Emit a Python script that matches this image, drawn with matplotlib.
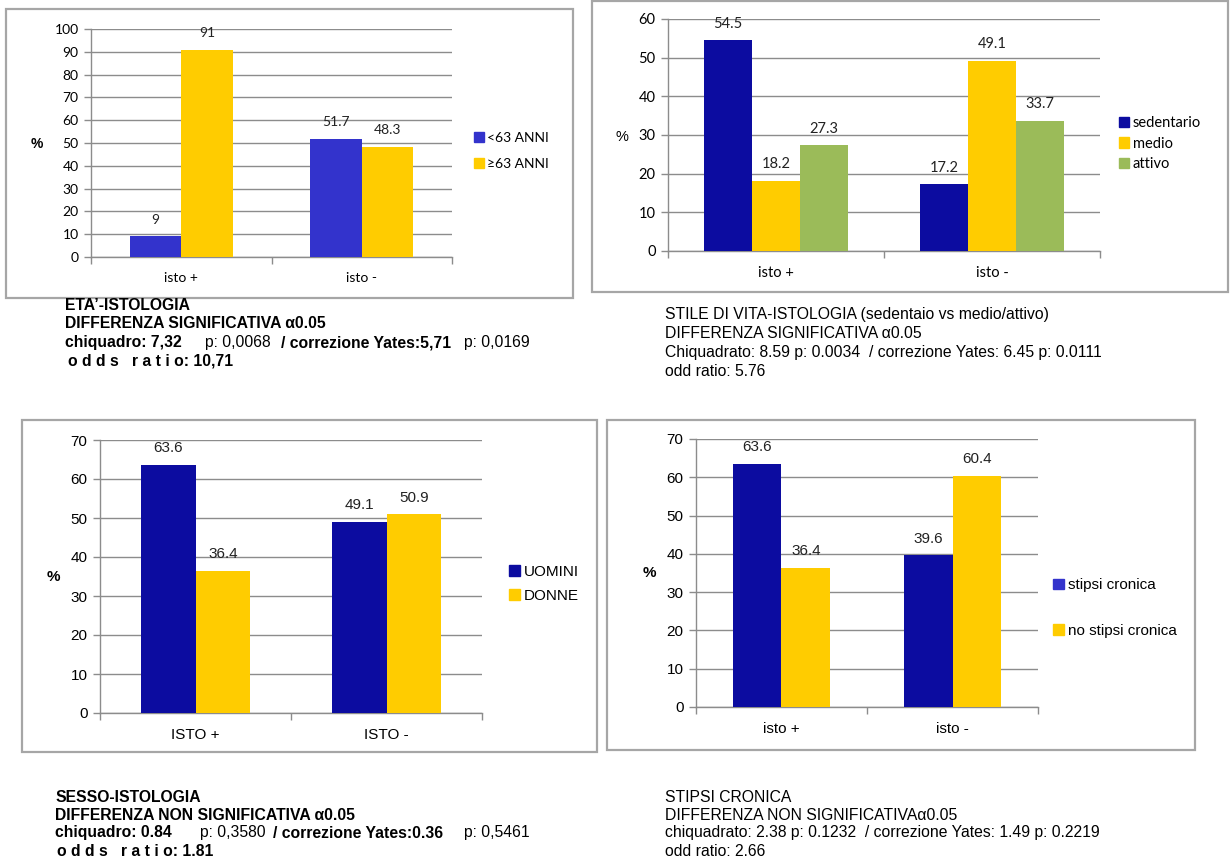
import numpy as np
import matplotlib.pyplot as plt
from matplotlib.patches import Rectangle, Patch

W, H = 1230, 861

# ---- data ----
cats_lower = ["isto +", "isto -"]
cats_upper = ["ISTO +", "ISTO -"]

eta_labels = ["<63 ANNI", "≥63 ANNI"]
eta_under63 = [9, 51.7]
eta_over63 = [91, 48.3]

stile_labels = ["sedentario", "medio", "attivo"]
stile_sedentario = [54.5, 17.2]
stile_medio = [18.2, 49.1]
stile_attivo = [27.3, 33.7]

sesso_labels = ["UOMINI", "DONNE"]
sesso_uomini = [63.6, 49.1]
sesso_donne = [36.4, 50.9]

stipsi_labels = ["stipsi cronica", "no stipsi cronica"]
stipsi_si = [63.6, 39.6]
stipsi_no = [36.4, 60.4]

BLUE_L = "#3333cc"
NAVY = "#0c0ca0"
YELLOW = "#ffcc00"
GREEN = "#9bbb59"
GRID = "#8c8c8c"

fig = plt.figure(figsize=(12.3, 8.61), dpi=100)


def px_rect(x0, y0, x1, y1):
    return [x0 / W, 1 - y1 / H, (x1 - x0) / W, (y1 - y0) / H]


def frame(x0, y0, x1, y1):
    fig.add_artist(Rectangle((x0 / W, 1 - y1 / H), (x1 - x0) / W, (y1 - y0) / H,
                             transform=fig.transFigure, fill=False,
                             edgecolor="#a6a6a6", lw=1.6))


def chart(box, cats, labels, series, colors, ymax, font, fs,
          pct_xy, pct_bold, leg_xy, leg_space, leg_colors=None):
    ax = fig.add_axes(px_rect(*box))
    n = len(series)
    w = 1.0 / (n + 1.5)
    x = np.arange(len(cats))
    for i, (vals, c) in enumerate(zip(series, colors)):
        pos = x - n * w / 2 + w * (i + 0.5)
        ax.bar(pos, vals, width=w, color=c, zorder=3)
        for xp, v in zip(pos, vals):
            ax.annotate(f"{v:g}", (xp, v), xytext=(0, 12), textcoords="offset points",
                        ha="center", va="center", fontsize=fs, family=font, color="#222222")
    ax.set_xlim(-0.5, len(cats) - 0.5)
    ax.set_ylim(0, ymax)
    ax.set_yticks(np.arange(0, ymax + 1, 10))
    ax.yaxis.grid(True, color=GRID, lw=1.0, zorder=0)
    ax.set_xticks(x)
    ax.set_xticklabels(cats, family=font, fontsize=fs)
    ax.set_xticks(np.arange(-0.5, len(cats)), minor=True)
    ax.tick_params(axis="x", which="major", length=0, pad=11)
    ax.tick_params(axis="x", which="minor", length=5, color=GRID, width=1)
    ax.tick_params(axis="y", length=5, color=GRID, width=1, pad=4)
    for lab in ax.get_yticklabels():
        lab.set_family(font)
        lab.set_fontsize(fs)
    for s in ["top", "right"]:
        ax.spines[s].set_visible(False)
    for s in ["left", "bottom"]:
        ax.spines[s].set_color(GRID)
        ax.spines[s].set_linewidth(1.0)
    fig.text(pct_xy[0] / W, 1 - pct_xy[1] / H, "%", ha="center", va="center",
             fontsize=fs, family="Liberation Sans",
             fontweight="bold" if pct_bold else "normal")
    handles = [Patch(color=c) for c in (leg_colors or colors)]
    ax.legend(handles, labels, loc="center left",
              bbox_to_anchor=(leg_xy[0] / W, 1 - leg_xy[1] / H),
              bbox_transform=fig.transFigure, frameon=False, borderpad=0,
              borderaxespad=0, handlelength=0.7, handleheight=0.7,
              handletextpad=0.25, labelspacing=leg_space,
              prop={"family": font, "size": fs})
    return ax


TOPFONT = "Lato"
ARIAL = "Liberation Sans"

# top-left: age
frame(6, 9, 573, 298)
chart((91, 29, 452, 257), cats_lower, eta_labels, [eta_under63, eta_over63],
      [BLUE_L, YELLOW], 100, TOPFONT, 10, (37, 144), True, (474, 151), 1.0)

# top-right: lifestyle
frame(592, 0.5, 1228, 292)
chart((668, 19, 1100, 251), cats_lower, stile_labels,
      [stile_sedentario, stile_medio, stile_attivo],
      [NAVY, YELLOW, GREEN], 60, TOPFONT, 10.5, (622, 137), False, (1119, 143.5), 0.45)

# bottom-left: sex
frame(22, 420, 597, 752)
chart((100, 440, 482, 713), cats_upper, sesso_labels, [sesso_uomini, sesso_donne],
      [NAVY, YELLOW], 70, ARIAL, 11, (53, 577), True, (509, 584), 0.65)

# bottom-right: constipation
frame(607, 420, 1195, 750)
chart((696, 439, 1038, 707), cats_lower, stipsi_labels, [stipsi_si, stipsi_no],
      [NAVY, YELLOW], 70, ARIAL, 11, (649, 573), True, (1053, 608), 2.05,
      leg_colors=[BLUE_L, YELLOW])


# ---- captions ----
def t(x, y, s, bold=False, **kw):
    fig.text(x / W, 1 - y / H, s, ha="left", va="center", fontsize=11.3,
             family=ARIAL, fontweight="bold" if bold else "normal", **kw)


t(65, 306, "ETA\u2019-ISTOLOGIA", True)
t(65, 324, "DIFFERENZA SIGNIFICATIVA \u03b10.05", True)
t(65, 343, "chiquadro: 7,32", True)
t(205, 343, "p: 0,0068")
t(281, 343, "/ correzione Yates:5,71", True)
t(464, 343, "p: 0,0169")
t(68, 361, "o d d s   r a t i o: 10,71", True)

t(665, 315, "STILE DI VITA-ISTOLOGIA (sedentaio vs medio/attivo)")
t(665, 334, "DIFFERENZA SIGNIFICATIVA \u03b10.05")
t(665, 353, "Chiquadrato: 8.59 p: 0.0034  / correzione Yates: 6.45 p: 0.0111")
t(665, 371, "odd ratio: 5.76")

t(55, 797, "SESSO-ISTOLOGIA", True)
t(55, 815, "DIFFERENZA NON SIGNIFICATIVA \u03b10.05", True)
t(55, 833, "chiquadro: 0.84", True)
t(200, 833, "p: 0,3580")
t(273, 833, "/ correzione Yates:0.36", True)
t(464, 833, "p: 0,5461")
t(57, 852, "o d d s   r a t i o: 1.81", True)

t(665, 797, "STIPSI CRONICA")
t(665, 815, "DIFFERENZA NON SIGNIFICATIVA\u03b10.05")
t(665, 833, "chiquadrato: 2.38 p: 0.1232  / correzione Yates: 1.49 p: 0.2219")
t(665, 852, "odd ratio: 2.66")

fig.savefig("out.png", dpi=100)
